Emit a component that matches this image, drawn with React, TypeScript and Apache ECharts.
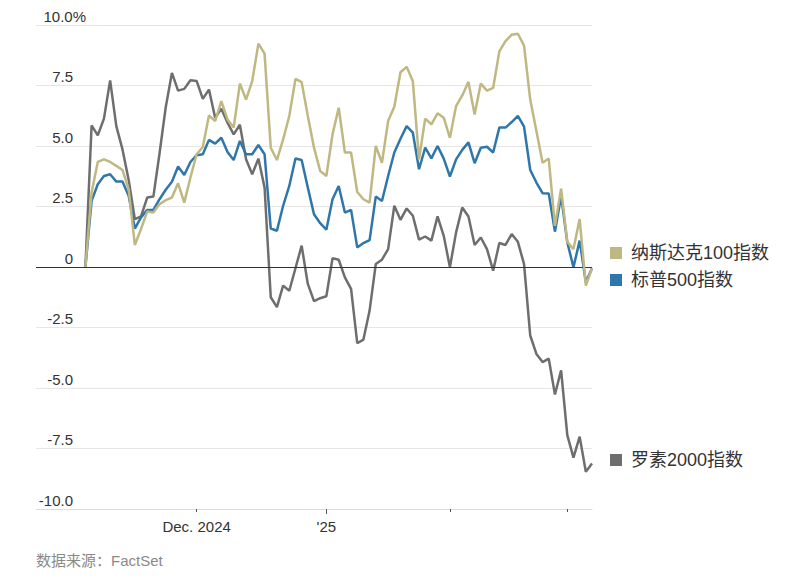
import React, { useEffect, useRef } from 'react';
import * as echarts from 'echarts';

// Cumulative % change since the baseline day (index 0), one value per trading day
const nasdaq100 = [
  0, 3.08, 4.34, 4.45, 4.34, 4.18, 4.01, 3.21, 0.91, 1.57,
  2.29, 2.25, 2.6, 2.76, 2.87, 3.46, 2.66, 3.7, 4.66, 4.96,
  6.26, 6.03, 6.85, 6.1, 5.76, 7.58, 6.92, 7.68, 9.23, 8.82,
  4.93, 4.42, 5.27, 6.24, 7.77, 7.64, 6.24, 4.93, 3.97, 3.76,
  5.48, 6.58, 4.73, 4.73, 3.1, 2.8, 2.66, 5.0, 4.31, 6.03,
  6.62, 8.05, 8.27, 7.68, 4.45, 6.13, 5.89, 6.35, 6.17, 5.34,
  6.65, 7.09, 7.65, 6.3, 7.58, 7.29, 7.4, 8.91, 9.33, 9.6,
  9.64, 9.15, 6.92, 5.62, 4.31, 4.48, 1.7, 3.24, 1.04, 0.74,
  1.98, -0.77, -0.05,
];
const sp500 = [
  0, 2.73, 3.42, 3.76, 3.83, 3.53, 3.53, 2.94, 1.59, 2.05,
  2.36, 2.36, 2.8, 3.19, 3.52, 4.15, 3.8, 4.34, 4.62, 4.66,
  5.25, 5.1, 5.34, 4.75, 4.42, 5.21, 4.66, 4.66, 5.04, 4.66,
  1.59, 1.5, 2.53, 3.35, 4.48, 4.42, 3.28, 2.18, 1.81, 1.54,
  2.8, 3.35, 2.25, 2.36, 0.81, 0.99, 1.11, 2.91, 2.73, 3.76,
  4.73, 5.3, 5.82, 5.55, 4.04, 4.93, 4.49, 5.0, 4.48, 3.74,
  4.45, 4.84, 5.15, 4.29, 4.93, 4.97, 4.73, 5.76, 5.76, 5.99,
  6.24, 5.8, 4.01, 3.49, 3.05, 3.04, 1.46, 2.94, 1.02, -0.01,
  1.09, -0.63, -0.05,
];
const russell2000 = [
  0, 5.85, 5.44, 6.13, 7.71, 5.82, 4.86, 3.6, 1.98, 2.09,
  2.87, 2.91, 4.7, 6.6, 8.02, 7.29, 7.36, 7.72, 7.69, 6.95,
  7.33, 6.17, 6.54, 5.96, 5.48, 5.88, 4.45, 3.83, 4.48, 3.28,
  -1.25, -1.66, -0.77, -0.98, -0.05, 0.88, -0.7, -1.41, -1.29, -1.21,
  0.36, 0.3, -0.43, -0.9, -3.15, -3.0, -1.8, 0.12, 0.3, 0.74,
  2.53, 1.95, 2.42, 2.12, 1.13, 1.26, 1.09, 2.09, 1.29, -0.01,
  1.43, 2.46, 2.09, 0.91, 1.22, 0.74, -0.15, 0.99, 0.91, 1.36,
  1.04, 0.12, -2.83, -3.59, -3.93, -3.79, -5.27, -4.27, -6.95, -7.88,
  -7.01, -8.46, -8.12,
];

const seriesNames = ['纳斯达克100指数', '标普500指数', '罗素2000指数'];
const seriesColors = ['#bfb883', '#2f77ab', '#6e6e6e'];

const yTicks = [-10, -7.5, -5, -2.5, 0, 2.5, 5, 7.5, 10];
const yTickLabels = ['-10.0', '-7.5', '-5.0', '-2.5', '0', '2.5', '5.0', '7.5', '10.0%'];

// trading-day index of the first session of Dec, Jan, Feb, Mar
const xTickPositions = [18, 39, 59, 78];
const xTickLabels = ['Dec. 2024', "'25", '', ''];
const yearTickPositions = [39];

const sourceText = '数据来源：FactSet';

const FONT = "'Liberation Sans', Arial, 'Noto Sans CJK SC', sans-serif";

const toPairs = (arr: number[]) => arr.map((v, i) => [i, v]);

export default function App() {
  const ref = useRef<HTMLDivElement>(null);

  useEffect(() => {
    if (!ref.current) return;
    const chart = echarts.init(ref.current, undefined, { renderer: 'svg' });

    const values = [nasdaq100, sp500, russell2000];
    const drawOrder = [2, 1, 0];
    const legendTops = [243, 270, 450];

    chart.setOption({
      animation: false,
      textStyle: { fontFamily: FONT },
      grid: { left: 36, right: 220, top: 25, bottom: 71 },
      xAxis: [
        {
          type: 'value',
          min: -8,
          max: 82,
          position: 'bottom',
          axisLine: { show: true, onZero: false, lineStyle: { color: '#dcdcdc', width: 1 } },
          axisTick: {
            show: true,
            customValues: xTickPositions,
            length: 3,
            lineStyle: { color: '#555' },
          },
          axisLabel: {
            customValues: xTickPositions.filter((_, k) => xTickLabels[k] !== ''),
            formatter: (v: number) => xTickLabels[xTickPositions.indexOf(v)] ?? '',
            fontSize: 15,
            color: '#333',
            margin: 10,
            fontFamily: FONT,
          },
          splitLine: { show: false },
        },
        {
          type: 'value',
          min: -8,
          max: 82,
          position: 'bottom',
          axisLine: { show: false, onZero: false },
          axisTick: {
            show: true,
            customValues: yearTickPositions,
            length: 5,
            lineStyle: { color: '#555' },
          },
          axisLabel: { show: false },
          splitLine: { show: false },
        },
      ],
      yAxis: {
        type: 'value',
        min: -10,
        max: 10,
        interval: 2.5,
        axisLine: { show: false },
        axisTick: { show: false },
        splitLine: { show: true, lineStyle: { color: '#e6e6e6', width: 1 } },
        axisLabel: {
          inside: true,
          margin: 50,
          align: 'right',
          verticalAlign: 'bottom',
          formatter: (v: number) => {
            const k = yTicks.indexOf(v);
            const s = k >= 0 ? yTickLabels[k] : '';
            return s.endsWith('%') ? `{m|${s}}` : `{n|${s}}`;
          },
          rich: {
            n: { fontSize: 15, color: '#333', fontFamily: FONT, padding: [0, 13, 0, 0], lineHeight: 18 },
            m: { fontSize: 15, color: '#333', fontFamily: FONT, lineHeight: 18 },
          },
        },
      },
      legend: seriesNames.map((name, k) => ({
        data: [name],
        left: 610,
        top: legendTops[k],
        orient: 'vertical',
        icon: 'rect',
        itemWidth: 12,
        itemHeight: 12,
        padding: 0,
        selectedMode: false,
        textStyle: { fontSize: 18, color: '#333', fontFamily: FONT, padding: [0, 0, 0, 4], lineHeight: 20 },
      })),
      series: drawOrder.map((k, j) => ({
        type: 'line',
        name: seriesNames[k],
        data: toPairs(values[k]),
        showSymbol: false,
        symbol: 'none',
        itemStyle: { color: seriesColors[k] },
        lineStyle: { color: seriesColors[k], width: 2.5 },
        z: 3 + j,
        markLine:
          j === 0
            ? {
                silent: true,
                symbol: 'none',
                label: { show: false },
                lineStyle: { color: '#333', width: 1, type: 'solid' },
                data: [{ yAxis: 0 }],
              }
            : undefined,
      })),
      graphic: [
        {
          type: 'text',
          left: 36,
          top: 553,
          style: { text: sourceText, fontSize: 15, fill: '#8a8a8a', fontFamily: FONT },
        },
      ],
    });

    return () => chart.dispose();
  }, []);

  return (
    <div
      ref={ref}
      style={{ position: 'absolute', left: 0, top: 0, width: 812, height: 580 }}
    />
  );
}
